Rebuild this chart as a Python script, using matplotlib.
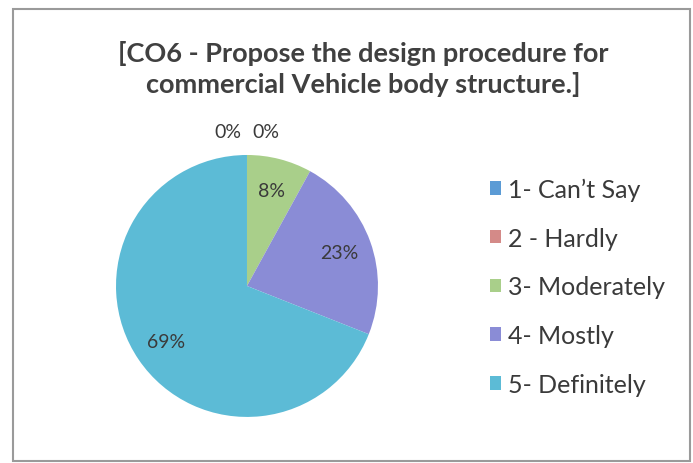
import matplotlib
matplotlib.use("Agg")
import matplotlib.pyplot as plt
import numpy as np
from matplotlib.patches import Rectangle

# ---- Dados ----
categorias = ["1- Can\u2019t Say", "2 - Hardly", "3- Moderately", "4- Mostly", "5- Definitely"]
percentuais = [0, 0, 8, 23, 69]
cores = ["#5b9bd5", "#d48a88", "#a9cf8a", "#8a8cd6", "#5cbbd6"]
titulo = "[CO6 - Propose the design procedure for\ncommercial Vehicle body structure.]"

plt.rcParams["font.family"] = ["Lato", "DejaVu Sans"]

fig = plt.figure(figsize=(6.93, 4.64), dpi=100)

# moldura do grafico
fig.patches.append(Rectangle((0.019, 0.004), 0.977, 0.974, transform=fig.transFigure,
                             fill=False, edgecolor="#9a9a9a", linewidth=1.5))

fig.text(0.524, 0.852, titulo, ha="center", va="center", fontsize=19.5,
         fontweight="bold", color="#404040", linespacing=1.3)

# ---- Pizza ----
ax = fig.add_axes([0.1674, 0.0992, 0.378, 0.5647])
wedges, textos, autotextos = ax.pie(
    percentuais, colors=cores, startangle=90, counterclock=False,
    autopct=lambda p: f"{p:.0f}%", pctdistance=0.75,
    textprops=dict(fontsize=14, color="#3a3a3a"),
    wedgeprops=dict(linewidth=0))
ax.set_xlim(-1, 1)
ax.set_ylim(-1, 1)
ax.set_aspect("equal")

# rotulos de 0% ficam fora, lado a lado no topo
zeros = [i for i, v in enumerate(percentuais) if v == 0]
for k, i in enumerate(zeros):
    desloc = (k - (len(zeros) - 1) / 2) * 0.29
    autotextos[i].set_position((desloc, 1.18))
    autotextos[i].set_clip_on(False)

# ---- Legenda ----
fig.legend(wedges, categorias, loc="center left", bbox_to_anchor=(0.674, 0.38),
           frameon=False, fontsize=18, labelcolor="#3a3a3a",
           handlelength=0.45, handleheight=0.45, handletextpad=0.3, labelspacing=1.03)

fig.savefig("out.png", dpi=100)
